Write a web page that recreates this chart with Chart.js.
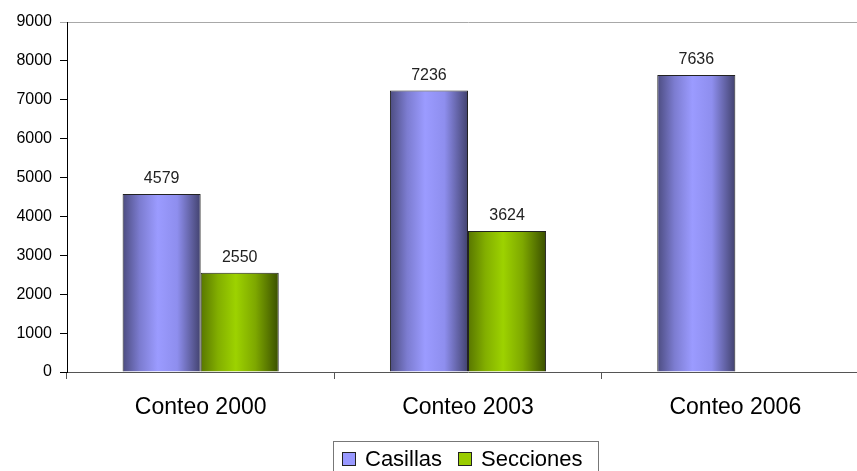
<!DOCTYPE html>
<html>
<head>
<meta charset="utf-8">
<script src="https://cdn.jsdelivr.net/npm/chart.js@4/dist/chart.umd.min.js"></script>
<style>
  html, body { margin: 0; padding: 0; background: #fff; overflow: hidden; }
  #wrap { position: relative; width: 870px; height: 471px; }
  #legend {
    position: absolute; left: 333px; top: 441px; width: 266px; height: 40px;
    border: 1px solid #777; box-sizing: border-box;
    font-family: "Liberation Sans", Arial, sans-serif; font-size: 22px; color: #000;
  }
  #legend ul { list-style: none; margin: 0; padding: 0; }
  #legend li { position: absolute; top: 4px; line-height: 26px; white-space: nowrap; }
  #legend span {
    display: inline-block; width: 12px; height: 12px; border: 1px solid #222;
    margin-right: 9px; vertical-align: 0px;
  }
</style>
</head>
<body>
<div id="wrap">
  <canvas id="conteo-chart"></canvas>
  <div id="legend"></div>
</div>
<script>
const categories = ['Conteo 2000', 'Conteo 2003', 'Conteo 2006'];
const casillas = [4579, 7236, 7636];
const secciones = [2550, 3624, null];
const yTicks = [0, 1000, 2000, 3000, 4000, 5000, 6000, 7000, 8000, 9000];

const seriesNames = ['Casillas', 'Secciones'];
const legendColors = ['#9999ff', '#99cc00'];
const gradientStops = [
  ['#4c4c80', '#7c7cd0', '#9b9bff', '#8e8eee', '#42426e'],
  ['#587600', '#82ae00', '#9dd200', '#7ea800', '#3a4f00']
];
const catPct = 0.584;

// horizontal gradient for each bar, worked out from the category scale
function barFill(context) {
  const chart = context.chart;
  const xs = chart.scales.x;
  const stops = gradientStops[context.datasetIndex];
  if (!xs || !chart.chartArea) return stops[2];
  const catW = xs.width / categories.length;
  const range = catW * catPct;
  const center = xs.getPixelForValue(context.dataIndex);
  const left = center - range / 2 + context.datasetIndex * range / 2;
  const g = chart.ctx.createLinearGradient(left, 0, left + range / 2, 0);
  g.addColorStop(0, stops[0]);
  g.addColorStop(0.22, stops[1]);
  g.addColorStop(0.45, stops[2]);
  g.addColorStop(0.7, stops[3]);
  g.addColorStop(1, stops[4]);
  return g;
}

// value above each bar
const valueLabels = {
  id: 'valueLabels',
  afterDatasetsDraw(chart) {
    const ctx = chart.ctx;
    ctx.save();
    ctx.font = '16px "Liberation Sans", Arial, sans-serif';
    ctx.fillStyle = '#222';
    ctx.textAlign = 'center';
    ctx.textBaseline = 'bottom';
    chart.data.datasets.forEach((ds, i) => {
      chart.getDatasetMeta(i).data.forEach((bar, j) => {
        if (ds.data[j] == null) return;
        ctx.fillText(String(ds.data[j]), bar.x, bar.y - 7);
      });
    });
    ctx.restore();
  }
};

const barStyle = {
  backgroundColor: barFill,
  borderColor: '#222',
  borderWidth: 1,
  categoryPercentage: catPct,
  barPercentage: 1
};

const ctx_chart = document.getElementById('conteo-chart');

new Chart(ctx_chart, {
  type: 'bar',
  data: {
    labels: categories,
    datasets: [
      Object.assign({ label: seriesNames[0], data: casillas }, barStyle),
      Object.assign({ label: seriesNames[1], data: secciones }, barStyle)
    ]
  },
  options: {
    responsive: true,
    maintainAspectRatio: false,
    animation: false,
    layout: { padding: { top: 22, right: 1, left: 0, bottom: 0 } },
    plugins: {
      legend: { display: false },
      tooltip: { enabled: false },
      colors: { enabled: false }
    },
    scales: {
      x: {
        afterFit: scale => { scale.height = 99; },
        border: { color: '#555', width: 1 },
        grid: { drawOnChartArea: false, color: '#555', tickLength: 7 },
        ticks: {
          color: '#000',
          padding: 15,
          font: { family: '"Liberation Sans", Arial, sans-serif', size: 23 }
        }
      },
      y: {
        min: 0,
        max: 9000,
        afterFit: scale => { scale.width = 67; },
        afterBuildTicks: scale => { scale.ticks = yTicks.map(v => ({ value: v })); },
        border: { color: '#000', width: 1 },
        grid: {
          color: c => (c.tick && c.tick.value === 9000 ? '#a8a8a8' : 'rgba(0,0,0,0)'),
          tickColor: c => (c.tick && c.tick.value === 9000 ? '#a8a8a8' : '#000'),
          tickLength: 7
        },
        ticks: {
          color: '#000',
          padding: 8,
          callback: v => String(v),
          font: { family: '"Liberation Sans", Arial, sans-serif', size: 16 }
        }
      }
    }
  },
  plugins: [valueLabels]
});

const legendHtml = seriesNames.map((name, i) => `
  <li style="left:${i === 0 ? 8 : 124}px"><span style="background-color: ${legendColors[i]}"></span>${name}</li>
`).join('');
document.getElementById('legend').innerHTML = `<ul>${legendHtml}</ul>`;
</script>
</body>
</html>
